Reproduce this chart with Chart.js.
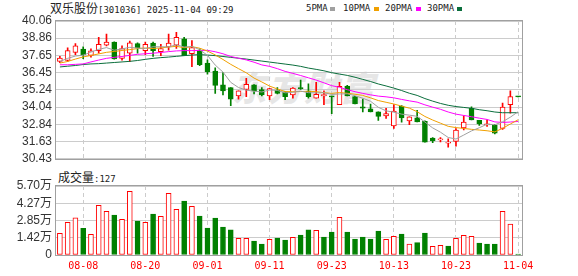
<!DOCTYPE html>
<html><head><meta charset="utf-8">
<script src="https://cdn.jsdelivr.net/npm/chart.js@4.4.1/dist/chart.umd.min.js"></script>
<style>
html,body{margin:0;padding:0;background:#fff;width:578px;height:276px;overflow:hidden}
body{position:relative}
.abs{position:absolute;white-space:nowrap}
.cjk{font-family:"Noto Sans CJK SC",sans-serif;font-size:12px}
.mono{font-family:"DejaVu Sans Mono",monospace;font-size:9px}
#title{left:50px;top:1px;line-height:14px;color:#222}
#vtitle{left:58px;top:170px;line-height:14px;color:#222}
.lg{top:1px;line-height:14px;color:#222}
.sq{top:7px;width:5px;height:4px}
#wm{left:232px;top:62px;font-family:"Noto Sans CJK SC",sans-serif;font-weight:900;font-style:italic;font-size:34px;color:#e6e6e6;letter-spacing:2px}
canvas{position:absolute;left:0}
</style></head><body>
<div id="wm" class="abs">东方财富</div>
<div id="title" class="abs"><span class="cjk">双乐股份</span><span class="mono">[301036] 2025-11-04 09:29</span></div>
<div class="abs lg mono" style="left:306px">5PMA</div><div class="abs sq" style="left:330px;background:#a0a0a0"></div>
<div class="abs lg mono" style="left:343px">10PMA</div><div class="abs sq" style="left:374px;background:#f0a000"></div>
<div class="abs lg mono" style="left:385px">20PMA</div><div class="abs sq" style="left:416px;background:#ff00ff"></div>
<div class="abs lg mono" style="left:427px">30PMA</div><div class="abs sq" style="left:457px;background:#0a6e3c"></div>
<div id="vtitle" class="abs"><span class="cjk">成交量</span><span class="mono">:127</span></div>
<canvas id="k" width="578" height="170" style="top:0"></canvas>
<canvas id="v" width="578" height="106" style="top:170px"></canvas>
<script>
const dates = ['08-05','08-06','08-07','08-08','08-11','08-12','08-13','08-14','08-15','08-18','08-19','08-20','08-21','08-22','08-25','08-26','08-27','08-28','08-29','09-01','09-02','09-03','09-04','09-05','09-08','09-09','09-10','09-11','09-12','09-15','09-16','09-17','09-18','09-19','09-22','09-23','09-24','09-25','09-26','09-29','09-30','10-09','10-10','10-13','10-14','10-15','10-16','10-17','10-20','10-21','10-22','10-23','10-24','10-27','10-28','10-29','10-30','10-31','11-03','11-04'];
const tickDates = ['08-08','08-20','09-01','09-11','09-23','10-13','10-23','11-04'];
const opens = [37.23,37.30,37.87,38.10,37.65,37.99,38.37,38.59,37.45,37.81,38.48,37.99,38.52,37.92,38.25,38.37,38.81,37.77,38.01,37.12,36.56,35.60,35.40,34.82,35.27,35.60,35.27,34.82,35.22,35.11,34.89,35.36,35.16,34.66,34.84,34.80,34.22,35.51,34.78,34.06,33.93,33.71,33.42,32.72,34.11,33.08,33.29,33.04,31.88,31.75,31.52,31.65,32.59,33.95,33.11,32.80,32.77,32.55,34.22,34.79];
const highs = [37.59,38.19,38.48,38.25,38.12,38.92,39.14,38.60,38.32,38.66,38.54,38.59,38.59,38.43,39.14,39.26,38.92,38.70,38.12,37.34,36.78,36.45,35.40,35.18,36.05,35.62,35.40,35.35,35.40,35.13,35.40,35.93,35.67,35.78,35.18,34.82,35.78,35.56,34.80,34.60,34.26,33.71,33.95,34.22,34.15,33.37,33.82,33.08,31.92,31.92,31.83,32.55,33.44,34.06,33.11,33.15,32.84,34.33,35.18,34.80];
const lows = [37.14,37.23,37.70,37.43,37.54,37.81,38.32,37.40,37.32,37.21,37.81,37.70,37.59,37.63,38.03,38.14,37.63,36.87,36.94,36.34,35.00,34.89,34.15,34.60,34.78,34.96,34.82,34.56,34.96,34.56,34.66,35.27,34.66,34.66,34.22,33.59,34.22,34.82,34.26,33.71,33.71,33.11,33.26,32.55,32.99,32.82,33.00,31.59,31.55,31.61,31.25,31.32,32.44,33.15,32.77,32.70,32.17,32.48,33.62,34.75];
const closes = [37.47,37.99,38.32,37.70,37.97,38.43,38.59,37.41,38.14,38.54,38.19,38.43,37.99,38.14,38.52,38.92,37.63,38.21,37.00,36.52,35.56,35.18,34.60,35.18,35.63,35.18,34.89,35.33,35.00,34.78,35.38,35.33,34.78,34.93,34.85,34.76,35.49,34.82,34.26,33.97,33.71,33.39,33.59,33.77,33.29,33.37,33.00,31.59,31.70,31.78,31.55,32.44,32.99,33.15,32.86,32.82,32.22,34.04,34.78,34.76];
const ma5 = [37.23,37.45,37.61,37.67,37.89,38.08,38.20,38.02,38.11,38.22,38.17,38.14,38.26,38.26,38.25,38.40,38.24,38.28,38.06,37.66,36.98,36.49,35.77,35.41,35.23,35.15,35.10,35.24,35.21,35.04,35.08,35.16,35.05,35.04,35.05,34.93,34.96,34.97,34.84,34.66,34.45,34.03,33.78,33.69,33.55,33.48,33.40,33.00,32.59,32.29,31.92,31.81,32.09,32.38,32.60,32.85,32.81,33.02,33.34,33.72];
const ma10 = [37.12,37.23,37.40,37.55,37.65,37.76,37.87,37.93,38.00,38.06,38.13,38.17,38.14,38.18,38.24,38.29,38.19,38.27,38.16,37.96,37.69,37.37,37.03,36.73,36.44,36.07,35.80,35.51,35.31,35.13,35.12,35.13,35.15,35.12,35.05,35.00,35.06,35.01,34.94,34.86,34.69,34.50,34.38,34.26,34.11,33.97,33.72,33.39,33.14,32.92,32.70,32.61,32.55,32.49,32.44,32.39,32.31,32.56,32.86,33.16];
const ma20 = [37.00,37.00,37.03,37.06,37.20,37.33,37.45,37.52,37.58,37.66,37.73,37.77,37.81,37.86,37.92,37.97,37.99,37.99,38.00,38.01,37.91,37.77,37.58,37.46,37.34,37.18,36.99,36.89,36.73,36.54,36.40,36.25,36.09,35.93,35.74,35.54,35.43,35.26,35.12,35.00,34.90,34.81,34.76,34.69,34.58,34.48,34.39,34.20,34.04,33.89,33.70,33.55,33.46,33.37,33.27,33.18,33.01,32.97,33.00,33.04];
const ma30 = [36.85,36.90,36.95,37.02,37.06,37.08,37.12,37.16,37.20,37.24,37.30,37.38,37.45,37.50,37.54,37.59,37.64,37.68,37.71,37.68,37.64,37.58,37.52,37.46,37.40,37.33,37.26,37.19,37.12,37.05,36.98,36.89,36.77,36.68,36.58,36.45,36.35,36.26,36.13,35.98,35.83,35.66,35.52,35.37,35.20,35.01,34.86,34.64,34.46,34.30,34.17,34.08,34.02,33.96,33.86,33.79,33.70,33.65,33.65,33.65];
const volumes = [1.79,2.70,3.08,2.20,1.71,4.10,3.61,3.30,2.95,5.26,2.81,2.70,3.39,3.19,5.10,3.77,4.46,4.02,3.22,2.23,3.06,2.31,2.07,1.38,1.38,1.16,0.91,1.30,1.40,1.24,1.46,1.65,2.07,2.04,1.49,1.90,3.11,1.90,1.32,1.49,1.32,1.98,1.30,1.54,1.73,0.91,1.02,1.82,0.72,0.80,0.74,1.38,1.63,1.54,0.99,0.91,0.91,3.61,2.56,0.0127];
const priceTicks = ['30.43','31.63','32.84','34.04','35.24','36.45','37.65','38.86','40.06'];
const volTickValues = [0,1.425,2.85,4.275,5.70];
const volTicks = ['0','1.42万','2.85万','4.27万','5.70万'];

const RED = '#ff0000', GREEN = '#008000', GRID = '#cccccc', BOX = '#a0a0a0';
const up = closes.map((c,i)=>c>=opens[i]);
const volUp = closes.map((c,i)=> i===0 ? c>=opens[i] : c>=closes[i-1]);
const tickIdx = new Set(tickDates.map(d=>dates.indexOf(d)));

const boxPlugin = {
  id:'box',
  afterDraw(chart){
    const {ctx, chartArea:a} = chart;
    ctx.save(); ctx.strokeStyle = BOX; ctx.lineWidth = 1;
    ctx.strokeRect(Math.round(a.left)-0.5, Math.round(a.top)-0.5, Math.round(a.right-a.left)+1, Math.round(a.bottom-a.top)+1);
    ctx.restore();
  }
};
const xGrid = {offset:false, drawTicks:false, color:(c)=>tickIdx.has(c.index)?GRID:'rgba(0,0,0,0)', lineWidth:1};
const xBorder = {display:false, dash:[4,3]};
Chart.defaults.font.family = '"Liberation Sans","Noto Sans CJK SC",sans-serif';
Chart.defaults.animation = false;

new Chart(document.getElementById('k'), {
  type:'bar',
  data:{
    labels: dates,
    datasets:[
      {type:'line', label:'5PMA', data:ma5, borderColor:'#a0a0a0', borderWidth:1, pointRadius:0, order:0},
      {type:'line', label:'10PMA', data:ma10, borderColor:'#f0a000', borderWidth:1, pointRadius:0, order:0},
      {type:'line', label:'20PMA', data:ma20, borderColor:'#ff00ff', borderWidth:1, pointRadius:0, order:0},
      {type:'line', label:'30PMA', data:ma30, borderColor:'#0a6e3c', borderWidth:1, pointRadius:0, order:0},
      {label:'body', data: opens.map((o,i)=>[o, closes[i]]), barThickness:5, grouped:false, minBarLength:1,
        backgroundColor: up.map(u=>u?'#ffffff':GREEN), borderColor: up.map(u=>u?RED:GREEN), borderWidth:1, borderSkipped:false, order:2},
      {label:'wick', data: lows.map((l,i)=>[l, highs[i]]), barThickness:1, grouped:false,
        backgroundColor: up.map(u=>u?RED:GREEN), borderWidth:0, order:3}
    ]
  },
  options:{
    responsive:false, devicePixelRatio:1, animation:false,
    layout:{padding:{top:21, right:56, bottom:5, left:0}},
    plugins:{legend:{display:false}, tooltip:{enabled:false}},
    scales:{
      x:{offset:true, grid:xGrid, border:xBorder, ticks:{display:false}},
      y:{min:30.43, max:40.06,
        afterFit:(s)=>{s.width=56;},
        afterBuildTicks:(s)=>{s.ticks = priceTicks.map(t=>({value:parseFloat(t)}));},
        ticks:{autoSkip:false, callback:(v,i)=>priceTicks[i], color:'#333', font:{size:12}, padding:4},
        grid:{color:GRID, drawTicks:false}, border:{display:false}}
    }
  },
  plugins:[boxPlugin]
});

new Chart(document.getElementById('v'), {
  type:'bar',
  data:{
    labels: dates,
    datasets:[{label:'vol', data: volumes, barThickness:5, minBarLength:1,
      backgroundColor: volUp.map(u=>u?'#ffffff':GREEN), borderColor: volUp.map(u=>u?RED:GREEN), borderWidth:1, borderSkipped:false}]
  },
  options:{
    responsive:false, devicePixelRatio:1, animation:false,
    layout:{padding:{top:16, right:56, bottom:0, left:0}},
    plugins:{legend:{display:false}, tooltip:{enabled:false}},
    scales:{
      x:{offset:true, grid:xGrid, border:xBorder,
        afterFit:(s)=>{s.height=21;},
        ticks:{autoSkip:false, maxRotation:0, minRotation:0, padding:5, color:RED,
          font:{family:'"DejaVu Sans Mono",monospace', size:10},
          callback:(v,i)=> tickIdx.has(i) ? dates[i] : ''}},
      y:{min:0, max:5.70,
        afterFit:(s)=>{s.width=56;},
        afterBuildTicks:(s)=>{s.ticks = volTickValues.map(v=>({value:v}));},
        ticks:{autoSkip:false, callback:(v,i)=>volTicks[i], color:'#333', font:{size:12}, padding:4},
        grid:{color:GRID, drawTicks:false}, border:{display:false}}
    }
  },
  plugins:[boxPlugin]
});
</script>
</body></html>
